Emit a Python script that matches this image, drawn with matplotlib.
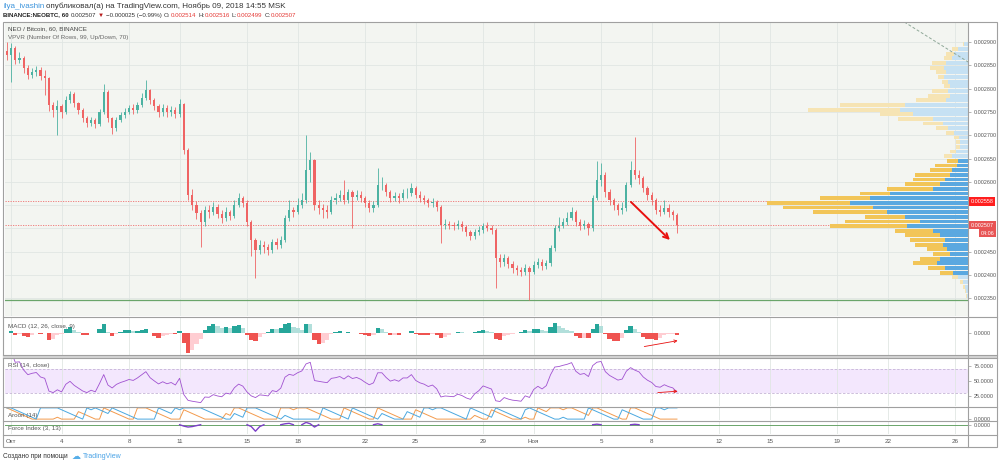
import numpy as np
import pandas as pd
import matplotlib
matplotlib.use("Agg")
import matplotlib.pyplot as plt
from matplotlib.lines import Line2D
from matplotlib.patches import Rectangle
from matplotlib.transforms import IdentityTransform, blended_transform_factory

plt.rcParams['font.family'] = ['Liberation Sans', 'DejaVu Sans']

# NEO/BTC, one value every 6 hours, in 1e-6 BTC
first_open = 2880
close = [2872, 2887, 2861, 2866, 2844, 2829, 2836, 2840, 2827, 2823,
         2765, 2754, 2763, 2750, 2776, 2788, 2769, 2754, 2737, 2726,
         2733, 2724, 2750, 2793, 2737, 2715, 2733, 2743, 2750, 2758,
         2754, 2765, 2780, 2797, 2776, 2763, 2750, 2758, 2750, 2754,
         2745, 2767, 2668, 2572, 2550, 2533, 2514, 2539, 2535, 2546,
         2531, 2522, 2535, 2527, 2550, 2565, 2554, 2514, 2475, 2454,
         2464, 2460, 2454, 2471, 2464, 2475, 2522, 2539, 2535, 2550,
         2561, 2625, 2647, 2550, 2544, 2539, 2535, 2561, 2565, 2572,
         2561, 2578, 2567, 2572, 2565, 2554, 2544, 2550, 2593, 2593,
         2578, 2565, 2570, 2565, 2576, 2576, 2587, 2572, 2565, 2561,
         2554, 2557, 2546, 2507, 2509, 2507, 2505, 2509, 2503, 2492,
         2484, 2492, 2497, 2505, 2501, 2497, 2436, 2428, 2436, 2424,
         2415, 2411, 2406, 2415, 2406, 2421, 2428, 2419, 2426, 2458,
         2501, 2505, 2514, 2522, 2535, 2514, 2505, 2509, 2501, 2565,
         2604, 2615, 2578, 2561, 2550, 2539, 2544, 2593, 2625, 2615,
         2608, 2587, 2572, 2561, 2539, 2535, 2544, 2535, 2529, 2507]
high = [2900, 2898, 2892, 2878, 2870, 2850, 2845, 2848, 2846, 2840,
        2826, 2772, 2775, 2768, 2784, 2795, 2792, 2772, 2758, 2742,
        2740, 2738, 2756, 2810, 2798, 2740, 2740, 2750, 2758, 2765,
        2766, 2772, 2790, 2818, 2800, 2780, 2768, 2766, 2765, 2762,
        2760, 2778, 2770, 2672, 2585, 2558, 2540, 2548, 2550, 2556,
        2552, 2540, 2545, 2540, 2560, 2575, 2570, 2560, 2518, 2480,
        2475, 2472, 2466, 2478, 2480, 2484, 2528, 2560, 2546, 2565,
        2575, 2700, 2665, 2650, 2560, 2552, 2550, 2570, 2575, 2582,
        2604, 2585, 2582, 2582, 2580, 2570, 2560, 2558, 2630, 2610,
        2598, 2582, 2578, 2576, 2584, 2586, 2598, 2592, 2580, 2572,
        2566, 2565, 2562, 2550, 2520, 2516, 2514, 2518, 2515, 2508,
        2496, 2498, 2505, 2512, 2514, 2508, 2500, 2445, 2446, 2440,
        2430, 2422, 2418, 2424, 2420, 2430, 2436, 2434, 2432, 2465,
        2508, 2525, 2522, 2535, 2546, 2540, 2520, 2518, 2514, 2572,
        2645, 2640, 2620, 2585, 2566, 2555, 2556, 2600, 2645, 2696,
        2625, 2612, 2592, 2578, 2565, 2550, 2560, 2552, 2540, 2532]
low = [2862, 2814, 2852, 2854, 2833, 2820, 2822, 2828, 2818, 2786,
       2752, 2740, 2700, 2738, 2745, 2770, 2760, 2745, 2728, 2718,
       2720, 2716, 2720, 2745, 2728, 2702, 2710, 2728, 2738, 2745,
       2745, 2748, 2760, 2775, 2768, 2755, 2740, 2742, 2740, 2742,
       2736, 2740, 2660, 2560, 2540, 2520, 2460, 2505, 2522, 2528,
       2522, 2512, 2515, 2518, 2522, 2545, 2545, 2505, 2440, 2394,
       2445, 2448, 2442, 2448, 2455, 2458, 2470, 2515, 2525, 2530,
       2544, 2555, 2600, 2540, 2530, 2522, 2522, 2530, 2552, 2558,
       2552, 2555, 2501, 2560, 2556, 2546, 2535, 2536, 2545, 2582,
       2570, 2556, 2558, 2555, 2560, 2566, 2570, 2565, 2556, 2552,
       2545, 2546, 2538, 2469, 2498, 2498, 2496, 2498, 2494, 2484,
       2476, 2478, 2486, 2490, 2494, 2488, 2372, 2418, 2420, 2414,
       2405, 2400, 2398, 2400, 2346, 2402, 2415, 2410, 2412, 2420,
       2452, 2494, 2500, 2508, 2518, 2506, 2496, 2498, 2486, 2495,
       2560, 2590, 2568, 2550, 2540, 2528, 2530, 2538, 2588, 2605,
       2595, 2578, 2562, 2550, 2530, 2526, 2530, 2524, 2518, 2490]
start_day = -0.25      # days after 1 Oct 00:00
step_day = 0.25

# volume profile, rows of 1e-5 BTC from 0.002355 (bottom) to 0.002895 (top)
vp_first = 2355
vp_step = 10
vp_up = [1, 2, 3, 5, 10, 15, 23, 31, 28, 18, 21, 25, 23, 28, 35,
         61, 48, 63, 81, 95, 118, 98, 78, 35, 28, 23, 18, 16, 11, 10,
         16, 12, 8, 8, 9, 14, 20, 25, 35, 55, 68, 63, 22, 18, 20,
         18, 20, 24, 22, 24, 22, 16, 14, 10, 4]
vp_down = [1, 1, 2, 3, 6, 13, 17, 24, 20, 17, 20, 28, 35, 35, 38,
           77, 75, 40, 74, 90, 83, 50, 30, 46, 35, 32, 35, 22, 22, 11,
           8, 6, 4, 4, 5, 8, 12, 20, 35, 33, 92, 65, 30, 22, 16,
           6, 6, 6, 10, 14, 14, 8, 8, 6, 1]
va_low, va_high = 2400, 2650

level_line = 2558
last_price = 2507
support_line = 2346

# Force Index is flat except for a few bursts
force_i = [42, 43, 44, 45, 58, 59, 60, 66, 67, 71, 72, 73, 88, 140, 149]
force_v = [-1.5, -2.5, -2, -1, -2, -7, -2, 1, 1.5, 2.5, 1, -2.5, 1, 0.6, 0.5]

date_ticks = [0, 3, 7, 10, 14, 17, 21, 24, 28, 31, 35, 38, 42, 45, 49, 52, 56]
date_labels = ['Окт', '4', '8', '11', '15', '18', '22', '25', '29', 'Ноя',
               '5', '8', '12', '15', '19', '22', '26']
price_ticks = [2350, 2400, 2450, 2500, 2550, 2600, 2650, 2700, 2750, 2800, 2850, 2900]
hidden_ticks = [2500, 2550]

# hand-drawn marks
arrow_price = ((36.65, 2561), (39.2, 2471))
arrow_macd = ((37.4, 0.21), (39.7, 0.39))
arrow_rsi = ((38.2, 30), (39.7, 33))
trend = ((52.5, 2954), (57.0, 2852))

# the indicators run on hourly bars; smoothing here is set for 6-hour bars
macd_spans = (4, 8, 3)
rsi_alpha = 0.12
aroon_look = 6

UP, DN = '#4cb2a2', '#ef6464'
GRID = '#e0e6e3'
AXC = '#555555'

W, H = 1000, 465
fig = plt.figure(figsize=(10, 4.65), dpi=100)
fig.patch.set_facecolor('white')


def rect(x0, y0, x1, y1):
    return [x0 / W, 1 - y1 / H, (x1 - x0) / W, (y1 - y0) / H]


def ptext(x, y, s, **kw):
    kw.setdefault('fontsize', 4.5)
    kw.setdefault('va', 'center')
    return fig.text(x, H - y, s, transform=IdentityTransform(), **kw)


def fline(xs, ys, color='#a0a0a0', lw=0.8):
    fig.add_artist(Line2D([x / W for x in xs], [1 - y / H for y in ys],
                          transform=fig.transFigure, color=color, lw=lw))


n = len(close)
t = start_day + step_day * np.arange(n)
c = np.array(close) / 1e6
o = np.array([first_open] + close[:-1]) / 1e6
h = np.array(high) / 1e6
l = np.array(low) / 1e6
xl = ((5 - 11) / 16.86, (968 - 11) / 16.86)

ax = fig.add_axes(rect(5, 22, 968, 316))
ax_m = fig.add_axes(rect(5, 317, 968, 355))
ax_r = fig.add_axes(rect(5, 358, 968, 406))
ax_a = fig.add_axes(rect(5, 407, 968, 420))
ax_f = fig.add_axes(rect(5, 421, 968, 434))

for a in (ax, ax_m, ax_r, ax_a, ax_f):
    a.set_xlim(*xl)
    for s in a.spines.values():
        s.set_visible(False)
    a.set_xticks(date_ticks)
    a.tick_params(axis='x', length=0, labelbottom=False)
    a.yaxis.tick_right()
    a.tick_params(axis='y', length=2, width=0.5, color='#999999', pad=2,
                  labelsize=3.9, labelcolor=AXC)
    a.grid(axis='x', color=GRID, lw=0.6)
    a.set_axisbelow(True)

ax.set_facecolor('#f3f5f1')

# price pane
ax.set_yticks([p / 1e6 for p in price_ticks])
ax.set_yticklabels(['' if p in hidden_ticks else '%.6f' % (p / 1e6) for p in price_ticks])
ax.grid(axis='y', color=GRID, lw=0.6)
cols = np.where(c >= o, UP, DN)
ax.vlines(t, l, h, colors=cols, lw=0.6, zorder=2)
ax.bar(t, np.maximum(np.abs(c - o), 0.7e-6), bottom=np.minimum(o, c), width=0.13,
       color=cols, lw=0, zorder=3)
ax.axhline(level_line / 1e6, color='#ef7070', lw=0.6, ls=(0, (1.5, 1.5)), zorder=1)
ax.axhline(last_price / 1e6, color='#ef7070', lw=0.6, ls=(0, (1.5, 1.5)), zorder=1)
ax.axhline(support_line / 1e6, color='#6aa56a', lw=0.9, zorder=1)
ax.annotate('', xy=(arrow_price[1][0], arrow_price[1][1] / 1e6),
            xytext=(arrow_price[0][0], arrow_price[0][1] / 1e6),
            arrowprops=dict(arrowstyle='->', color='#e8100f', lw=1.4,
                            mutation_scale=9), zorder=6)

# volume profile anchored at the right edge
ax_vp = ax.twiny()
vp_p = (vp_first + vp_step * np.arange(len(vp_up))) / 1e6
inside = (vp_p * 1e6 >= va_low) & (vp_p * 1e6 <= va_high)
up_c = np.where(inside, '#5aa8e0', '#c6e1f3')
dn_c = np.where(inside, '#f2c558', '#f6e4b4')
ax_vp.barh(vp_p, vp_up, height=vp_step / 1e6 * 0.82, color=up_c, lw=0)
ax_vp.barh(vp_p, vp_down, left=vp_up, height=vp_step / 1e6 * 0.82, color=dn_c, lw=0)
ax_vp.add_line(Line2D([trend[0][0], trend[1][0]], [trend[0][1] / 1e6, trend[1][1] / 1e6],
                      transform=ax.transData, color='#8fa898', lw=0.7, ls=(0, (3, 2))))
ax_vp.set_xlim(963, 0)
ax_vp.set_xticks([])
for s in ax_vp.spines.values():
    s.set_visible(False)
ax.set_ylim(2312e-6, 2943e-6)

bt = blended_transform_factory(ax.transAxes, ax.transData)
ax.text(1.003, level_line / 1e6, '%.6f' % (level_line / 1e6), transform=bt, fontsize=3.9,
        color='white', va='center', ha='left', clip_on=False,
        bbox=dict(boxstyle='square,pad=0.3', fc='#ff1f1f', ec='none'))
ax.text(1.003, last_price / 1e6, '%.6f' % (last_price / 1e6), transform=bt, fontsize=3.9,
        color='white', va='center', ha='left', clip_on=False,
        bbox=dict(boxstyle='square,pad=0.3', fc='#e85454', ec='none'))
ax.text(1.013, 2490e-6, '04:06', transform=bt, fontsize=3.9,
        color='white', va='center', ha='left', clip_on=False,
        bbox=dict(boxstyle='square,pad=0.3', fc='#e85454', ec='none'))

# MACD histogram
cs = pd.Series(c)
macd = (cs.ewm(span=macd_spans[0], adjust=False).mean()
        - cs.ewm(span=macd_spans[1], adjust=False).mean())
hist = (macd - macd.ewm(span=macd_spans[2], adjust=False).mean()).values
prev = np.r_[0, hist[:-1]]
hcol = np.where(hist >= 0, np.where(hist >= prev, '#26a69a', '#b2dfdb'),
                np.where(hist < prev, '#ef5350', '#ffcdd2'))
ax_m.bar(t, hist, width=step_day, color=hcol, lw=0)
s = max(hist.max() / 12, -hist.min() / 20)
ax_m.set_ylim(-22 * s, 16 * s)
ax_m.set_yticks([0])
ax_m.set_yticklabels(['0.0000'])
mt = blended_transform_factory(ax_m.transData, ax_m.transAxes)
ax_m.annotate('', xy=arrow_macd[1], xytext=arrow_macd[0], xycoords=mt, textcoords=mt,
              arrowprops=dict(arrowstyle='->', color='#e8100f', lw=0.6, mutation_scale=5))

# RSI
d = cs.diff()
gain = d.clip(lower=0).ewm(alpha=rsi_alpha, adjust=False).mean()
loss = (-d.clip(upper=0)).ewm(alpha=rsi_alpha, adjust=False).mean()
rsi = 100 - 100 / (1 + gain / loss)
ax_r.axhspan(30, 70, color='#f3e7fd', lw=0, zorder=0)
for lv in (30, 70):
    ax_r.axhline(lv, color='#c5b4d6', lw=0.6, ls=(0, (3, 2)), zorder=1)
ax_r.plot(t, rsi, color='#a051d0', lw=0.6, zorder=3)
ax_r.set_ylim(8, 88)
ax_r.set_yticks([25, 50, 75])
ax_r.set_yticklabels(['25.0000', '50.0000', '75.0000'])
ax_r.annotate('', xy=arrow_rsi[1], xytext=arrow_rsi[0],
              arrowprops=dict(arrowstyle='->', color='#e8100f', lw=0.6, mutation_scale=5))

# Aroon
win = aroon_look + 1
hs, ls_ = pd.Series(h), pd.Series(l)
a_up = hs.rolling(win, min_periods=1).apply(
    lambda x: 100 * (np.argmax(x) + win - len(x)) / aroon_look, raw=True)
a_dn = ls_.rolling(win, min_periods=1).apply(
    lambda x: 100 * (np.argmin(x) + win - len(x)) / aroon_look, raw=True)
ax_a.plot(t, a_up, color='#f39a4c', lw=0.7)
ax_a.plot(t, a_dn, color='#4aa8e0', lw=0.7)
ax_a.set_ylim(-8, 108)
ax_a.set_yticks([0])
ax_a.set_yticklabels(['0.0000'])

# Force Index, drawn only around its bursts
f = np.zeros(n)
f[force_i] = force_v
near = np.convolve(f != 0, [1, 1, 1], mode='same') > 0
ax_f.axhline(0, color='#6aa56a', lw=0.7, zorder=1)
ax_f.plot(t, np.where(near, f, np.nan), color='#7c3fc8', lw=1.0, zorder=2)
ax_f.set_ylim(-10, 4)
ax_f.set_yticks([0])
ax_f.set_yticklabels(['0.0000'])
ax_f.tick_params(axis='x', labelbottom=True, labelsize=4.5, labelcolor=AXC, pad=3.5)
ax_f.set_xticklabels(date_labels)

# frame and pane separators
fig.add_artist(Rectangle((3 / W, 1 - 447 / H), 994 / W, 425 / H, transform=fig.transFigure,
                         fill=False, ec='#a0a0a0', lw=0.8))
fig.add_artist(Rectangle((3 / W, 1 - 358 / H), 994 / W, 2.5 / H, transform=fig.transFigure,
                         fc='#d4d4d4', ec='none'))
fline([968, 968], [22, 447])
for yy in (316.5, 355, 358, 406.8, 420.6, 434.8):
    fline([3, 997], [yy, yy])


# header
def put_row(x, y, parts, size):
    fig.canvas.draw()
    r = fig.canvas.get_renderer()
    for s_, col, bold, gap in parts:
        tx = ptext(x, y, s_, color=col, fontsize=size, weight='bold' if bold else 'normal')
        x = tx.get_window_extent(r).x1 + gap


DARK = '#333333'
RED = '#e53935'
put_row(3, 6.5, [('ilya_ivashin', '#3c94dc', False, 1.5),
                 ('опубликовал(а) на TradingView.com, Ноябрь 09, 2018 14:55 MSK', DARK, False, 0)], 5.8)
put_row(3, 15, [('BINANCE:NEOBTC, 60', '#222222', True, 2),
                ('0.002507', DARK, False, 2),
                ('▼', '#b71c1c', False, 2),
                ('−0.000025 (−0.99%)', DARK, False, 2),
                ('O:', DARK, False, 0), ('0.002514', RED, False, 2),
                ('H:', DARK, False, 0), ('0.002516', RED, False, 2),
                ('L:', DARK, False, 0), ('0.002499', RED, False, 2),
                ('C:', DARK, False, 0), ('0.002507', RED, False, 0)], 4.4)

ptext(8, 29, 'NEO / Bitcoin, 60, BINANCE', color='#444444')
ptext(8, 37.5, 'VPVR (Number Of Rows, 99, Up/Down, 70)', color='#666666')
ptext(8, 326, 'MACD (12, 26, close, 9)', color='#555555')
ptext(8, 365, 'RSI (14, close)', color='#555555')
ptext(8, 415, 'Aroon (14)', color='#555555')
ptext(8, 428, 'Force Index (3, 13)', color='#555555')

# footer
ptext(3, 456, 'Создано при помощи', color=DARK, fontsize=4.7)
ptext(72, 456, '☁', color='#58aee8', fontsize=6.5, family='DejaVu Sans')
ptext(83, 456, 'TradingView', color='#4aa3e6', fontsize=5)

fig.savefig('out.png', dpi=100)
